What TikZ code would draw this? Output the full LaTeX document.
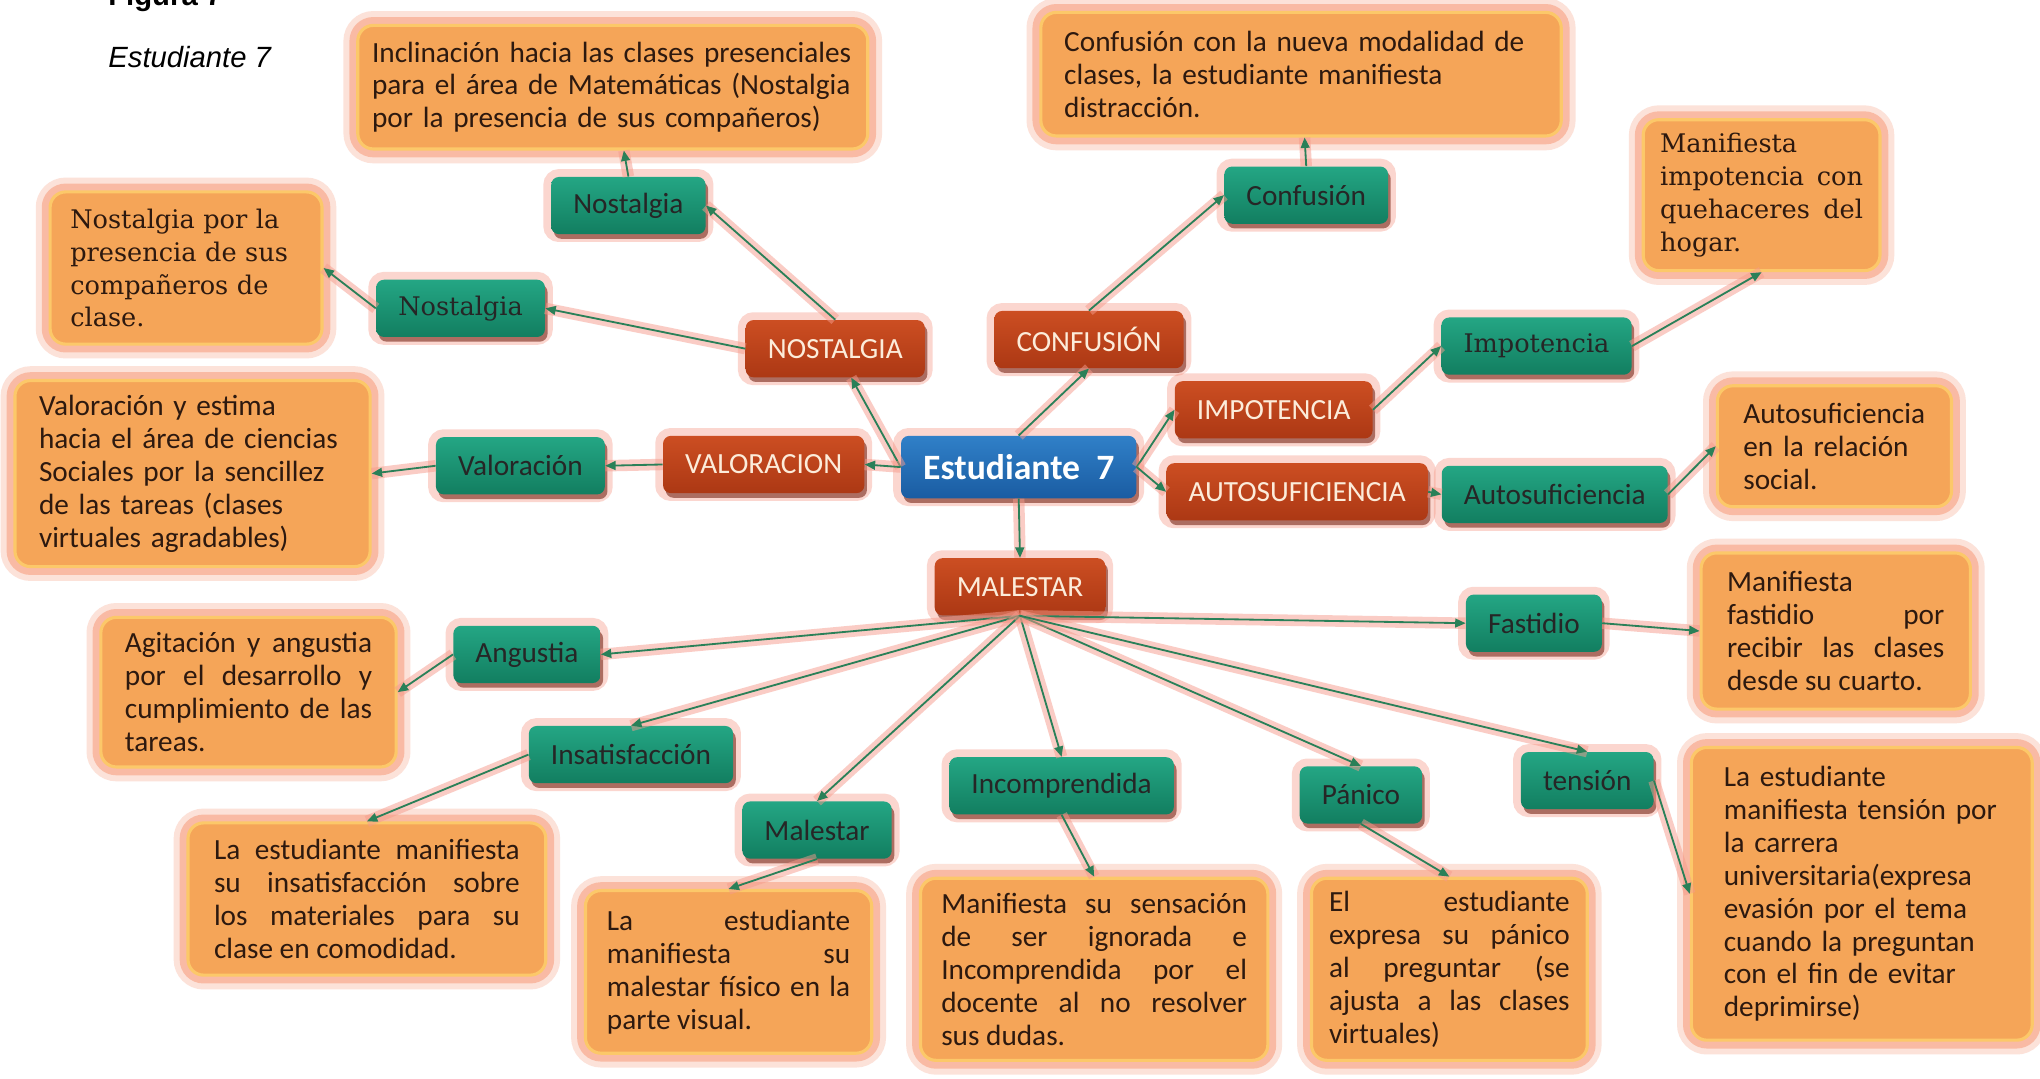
\documentclass[tikz,border=0pt]{standalone}
\usepackage{fontspec}
\setmainfont{Carlito}
\newfontfamily\serifnota{DejaVu Serif}
\newfontfamily\arialnota{Liberation Sans}
\usepackage{tikz}
\usetikzlibrary{arrows.meta}
\usetikzlibrary{shadows}

\definecolor{notafill}{RGB}{245,165,88}
\definecolor{notaedge}{RGB}{252,200,105}
\definecolor{notaglow}{RGB}{248,160,130}
\definecolor{notatext}{RGB}{45,25,15}
\definecolor{verdetop}{RGB}{36,166,132}
\definecolor{verdebot}{RGB}{18,126,96}
\definecolor{rojotop}{RGB}{204,78,34}
\definecolor{rojobot}{RGB}{172,56,20}
\definecolor{rojotext}{RGB}{252,236,218}
\definecolor{azultop}{RGB}{48,128,200}
\definecolor{azulbot}{RGB}{26,92,162}
\definecolor{sombra}{RGB}{120,40,25}
\definecolor{nodoglow}{RGB}{245,140,120}
\definecolor{lineacol}{RGB}{42,128,88}
\definecolor{lineaglow}{RGB}{246,155,140}

\begin{document}
\begin{tikzpicture}
[x=0.25mm,y=-0.25mm,
  notadecorate/.style={shape=rectangle,rounded corners=3mm,inner sep=0pt,
    fill=notafill,draw=notaedge,line width=0.6mm,text=notatext,
    preaction={draw=notaglow,line width=5.5mm,opacity=0.3},
    preaction={draw=notaglow,line width=3.2mm,opacity=0.6},
    font=\fontsize{16}{18}\selectfont},
  seriedecorate/.style={notadecorate,font=\serifnota\fontsize{14}{18}\selectfont},
  nododecorate/.style={shape=rectangle,rounded corners=1.5mm,inner xsep=4.25mm,
    inner ysep=0pt,minimum height=11mm,
    preaction={draw=nodoglow,line width=3mm,opacity=0.35},
    drop shadow={shadow xshift=0.5mm,shadow yshift=-0.9mm,fill=sombra,opacity=0.6}},
  catdecorate/.style={nododecorate,top color=rojotop,bottom color=rojobot,text=rojotext,
    font=\fontsize{16}{18}\selectfont},
  subdecorate/.style={nododecorate,top color=verdetop,bottom color=verdebot,text=black!85,
    font=\fontsize{16}{18}\selectfont},
  subserif/.style={subdecorate,font=\serifnota\fontsize{14}{18}\selectfont},
  centrodecorate/.style={nododecorate,top color=azultop,bottom color=azulbot,text=white,
    minimum height=12mm,font=\bfseries\fontsize{19.5}{22}\selectfont},
  linedecorate/.style={draw=lineacol,line width=0.35mm,-{Triangle[length=2mm,width=1.7mm]},
    preaction={draw=lineaglow,line width=2.2mm,opacity=0.5,arrows=-}}]
\path[use as bounding box,fill=white] (0,0) rectangle (1568,829);

%% titulo
\node (figura) at (83,4) [anchor=base west,inner sep=0pt,
  font=\arialnota\bfseries\fontsize{16}{18}\selectfont] {Figura 7};
\node (titulo) at (83,52) [anchor=base west,inner sep=0pt,
  font=\arialnota\itshape\fontsize{16}{18}\selectfont] {Estudiante 7};

%% nodo central
\node (centro) at (783,359) [centrodecorate] {Estudiante\ \ 7};

%% categorias y subcategorias
\foreach \nodename/\x/\y/\estilo/\texto in {NOSTALGIA/642/268/catdecorate/NOSTALGIA,
  CONFUSION/837/261/catdecorate/CONFUSIÓN, IMPOTENCIA/979/315/catdecorate/IMPOTENCIA,
  AUTOSUF/997/378/catdecorate/AUTOSUFICIENCIA, VALORACION/587/357/catdecorate/VALORACION,
  MALESTAR/784/451/catdecorate/MALESTAR,
  nostalgiaA/483/158/subdecorate/Nostalgia, nostalgiaB/354/237/subserif/Nostalgia,
  confusion/1004/150/subdecorate/Confusión, impotencia/1181/266/subserif/Impotencia,
  valoracion/400/358/subdecorate/Valoración, autosuf/1195/380/subdecorate/Autosuficiencia,
  fastidio/1179/479/subdecorate/Fastidio, angustia/405/503/subdecorate/Angustia,
  insatisf/485/580/subdecorate/Insatisfacción, malestar/628/638/subdecorate/Malestar,
  incomprendida/816/604/subdecorate/Incomprendida, panico/1046/611/subdecorate/Pánico,
  tension/1220/600/subdecorate/tensión}
{
  \node (\nodename) at (\x,\y) [\estilo] {\texto};
}

%% notas
\node (inclinacion) at (471,67) [notadecorate,minimum width=98mm,minimum height=23.75mm,
  text width=92.5mm,align=left]
  {Inclinación hacia las clases presenciales\\para el área de Matemáticas (Nostalgia\\por la presencia de sus compañeros)};
\node (distraccion) at (1000,57) [notadecorate,minimum width=100mm,minimum height=23.75mm,
  text width=91mm,align=left]
  {Confusión con la nueva modalidad de\\clases, la estudiante manifiesta\\distracción.};
\node (hogar) at (1354,150) [seriedecorate,minimum width=45.5mm,minimum height=29mm,
  text width=39mm,align=justify]
  {Manifiesta\linebreak impotencia con\linebreak quehaceres del\linebreak hogar.};
\node (companeros) at (143,206) [seriedecorate,minimum width=52.25mm,minimum height=29.25mm,
  text width=44.5mm,align=left]
  {Nostalgia por la\\presencia de sus\\compañeros de\\clase.};
\node (sociales) at (148,364) [notadecorate,minimum width=68.25mm,minimum height=35.75mm,
  text width=59mm,align=left]
  {Valoración y estima\\hacia el área de ciencias\\Sociales por la sencillez\\de las tareas (clases\\virtuales agradables)};
\node (relacion) at (1410,343) [notadecorate,minimum width=45mm,minimum height=23.25mm,
  text width=35mm,align=left]
  {Autosuficiencia\\en la relación\\social.};
\node (cuarto) at (1411,485) [notadecorate,minimum width=51.75mm,minimum height=30mm,
  text width=41.75mm,align=justify]
  {Manifiesta\linebreak fastidio por\linebreak recibir las clases\linebreak desde su cuarto.};
\node (tareas) at (191,532) [notadecorate,minimum width=56.75mm,minimum height=28.75mm,
  text width=47.5mm,align=justify]
  {Agitación y angustia\linebreak por el desarrollo y\linebreak cumplimiento de las\linebreak tareas.};
\node (comodidad) at (282,691) [notadecorate,minimum width=68.75mm,minimum height=29.25mm,
  text width=58.75mm,align=justify]
  {La estudiante manifiesta\linebreak su insatisfacción sobre\linebreak los materiales para su\linebreak clase en comodidad.};
\node (visual) at (560,747) [notadecorate,minimum width=55mm,minimum height=31.25mm,
  text width=46.75mm,align=justify]
  {La estudiante\linebreak manifiesta su\linebreak malestar físico en la\linebreak parte visual.};
\node (dudas) at (841,745) [notadecorate,minimum width=66.75mm,minimum height=35mm,
  text width=58.75mm,align=justify]
  {Manifiesta su sensación\linebreak de ser ignorada e\linebreak Incomprendida por el\linebreak docente al no resolver\linebreak sus dudas.};
\node (preguntar) at (1114,745) [notadecorate,minimum width=53mm,minimum height=35mm,
  text width=46.25mm,align=justify]
  {El estudiante\linebreak expresa su pánico\linebreak al preguntar (se\linebreak ajusta a las clases\linebreak virtuales)};
\node (carrera) at (1431,687) [notadecorate,minimum width=65.5mm,minimum height=56.25mm,
  text width=53mm,align=left]
  {La estudiante\\manifiesta tensión por\\la carrera\\universitaria(expresa\\evasión por el tema\\cuando la preguntan\\con el fin de evitar\\deprimirse)};

%% conectores
\path
\foreach \startnode/\endnode in {centro.west/NOSTALGIA, centro.north/CONFUSION.south,
  centro.east/IMPOTENCIA.west, centro.east/AUTOSUF.west, centro.west/VALORACION.east,
  centro.south/MALESTAR.north,
  NOSTALGIA.north/nostalgiaA.east, NOSTALGIA.west/nostalgiaB.east,
  nostalgiaA.north/inclinacion, nostalgiaB.west/companeros.east,
  CONFUSION.north/confusion.west, confusion.north/distraccion,
  IMPOTENCIA.east/impotencia.west, impotencia.east/hogar.south,
  VALORACION.west/valoracion.east, valoracion.west/sociales.east,
  AUTOSUF.east/autosuf.west, autosuf.east/relacion.west,
  MALESTAR.south/fastidio.west, fastidio.east/cuarto.west,
  MALESTAR.south/angustia.east, angustia.west/tareas.east,
  MALESTAR.south/insatisf.north, insatisf.west/comodidad.north,
  MALESTAR.south/malestar.north, malestar.south/visual.north,
  MALESTAR.south/incomprendida.north, incomprendida.south/dudas.north,
  MALESTAR.south/panico.north, panico.south/preguntar.north,
  MALESTAR.south/tension.north, tension.east/carrera.west}
{
  (\startnode) edge[linedecorate] (\endnode)
};
\end{tikzpicture}
\end{document}
